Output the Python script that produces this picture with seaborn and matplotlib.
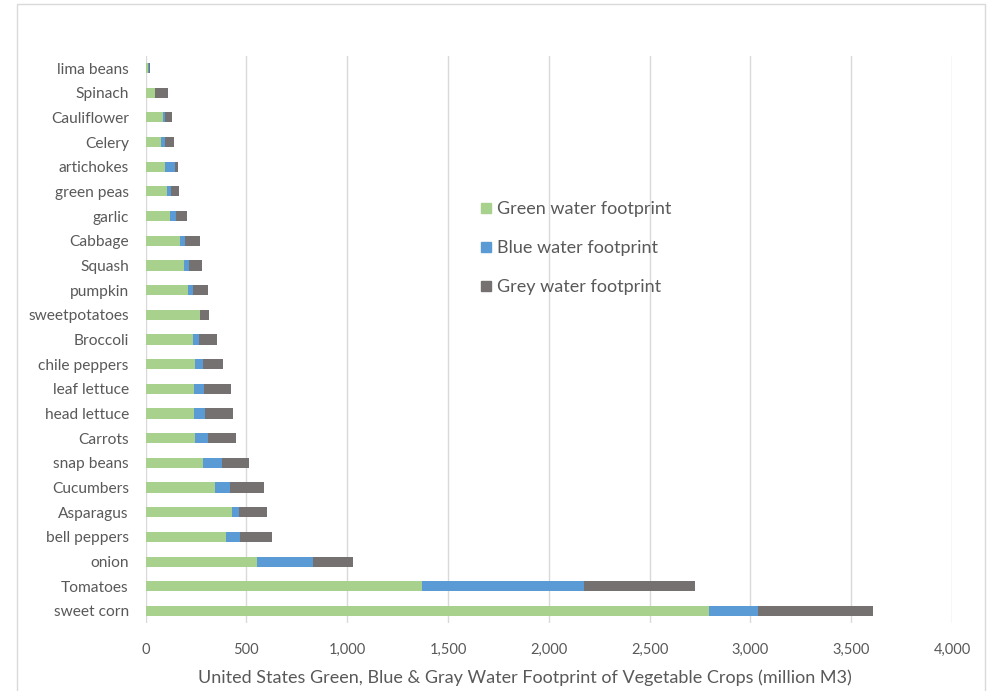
import numpy as np
import pandas as pd
import matplotlib
matplotlib.use("Agg")
import matplotlib.pyplot as plt
from matplotlib.patches import Rectangle
from matplotlib.lines import Line2D
import seaborn as sns

# Water footprint of US vegetable crops, million m3
crops = ["lima beans", "Spinach", "Cauliflower", "Celery", "artichokes", "green peas",
         "garlic", "Cabbage", "Squash", "pumpkin", "sweetpotatoes", "Broccoli",
         "chile peppers", "leaf lettuce", "head lettuce", "Carrots", "snap beans",
         "Cucumbers", "Asparagus", "bell peppers", "onion", "Tomatoes", "sweet corn"]
green = [12, 47, 85, 75, 97, 108, 122, 173, 191, 212, 270, 237,
         244, 241, 241, 244, 284, 346, 431, 399, 552, 1373, 2797]
blue = [4, 0, 12, 23, 48, 17, 29, 24, 23, 25, 2, 27,
        43, 51, 54, 68, 97, 72, 31, 68, 277, 804, 240]
grey = [6, 66, 34, 45, 18, 43, 56, 72, 68, 73, 45, 92,
        96, 134, 139, 138, 132, 171, 142, 159, 200, 549, 570]

series = ["Green water footprint", "Blue water footprint", "Grey water footprint"]
colors = ["#A9D18E", "#5B9BD5", "#767171"]
xticks = [0, 500, 1000, 1500, 2000, 2500, 3000, 3500, 4000]
xlabel = "United States Green, Blue & Gray Water Footprint of Vegetable Crops (million M3)"

df = pd.DataFrame({"crop": crops, "green": green, "blue": blue, "grey": grey})
df["g"] = df["green"]
df["gb"] = df["green"] + df["blue"]
df["gbg"] = df["gb"] + df["grey"]

sns.set_theme(style="white")
plt.rcParams["font.family"] = ["Lato", "DejaVu Sans"]
text_color = "#595959"

fig = plt.figure(figsize=(9.92, 6.91), dpi=100)
ax = fig.add_axes([0.1467, 0.098, 0.813, 0.8214])

# stacked bars: totals drawn first, then the lower segments on top
for col, c in zip(["gbg", "gb", "g"], colors[::-1]):
    sns.barplot(data=df, y="crop", x=col, order=crops, color=c, orient="h",
                width=0.41, saturation=1, ax=ax, edgecolor="none", linewidth=0)

ax.set_xlim(0, 4000)
ax.set_ylim(len(crops) - 0.5, -0.5)
ax.set_xticks(xticks)
ax.set_xticklabels([f"{v:,}" for v in xticks])
ax.grid(axis="x", color="#d9d9d9", linewidth=1)
ax.grid(axis="y", visible=False)
ax.set_axisbelow(True)
for s in ax.spines.values():
    s.set_visible(False)
ax.tick_params(axis="both", length=0, colors=text_color)
ax.tick_params(axis="x", pad=14, labelsize=10.5)
ax.tick_params(axis="y", pad=12, labelsize=11.2)
ax.set_ylabel("")
ax.set_xlabel(xlabel, fontsize=13, color=text_color)
ax.xaxis.set_label_coords(0.47, -0.082)

handles = [Line2D([0], [0], marker="s", linestyle="none", markersize=7,
                  markerfacecolor=c, markeredgecolor=c) for c in colors]
ax.legend(handles, series, loc="upper left", bbox_to_anchor=(0.394, 0.772),
          frameon=False, fontsize=13, labelcolor=text_color, labelspacing=1.27,
          handletextpad=0.25, handlelength=0.7)

fig.patches.append(Rectangle((17 / 992, -0.01), (985 - 17) / 992, 1 - 3.5 / 691 + 0.01,
                             transform=fig.transFigure, fill=False,
                             edgecolor="#d9d9d9", linewidth=1))

fig.savefig("out.png", dpi=100, facecolor="white")
